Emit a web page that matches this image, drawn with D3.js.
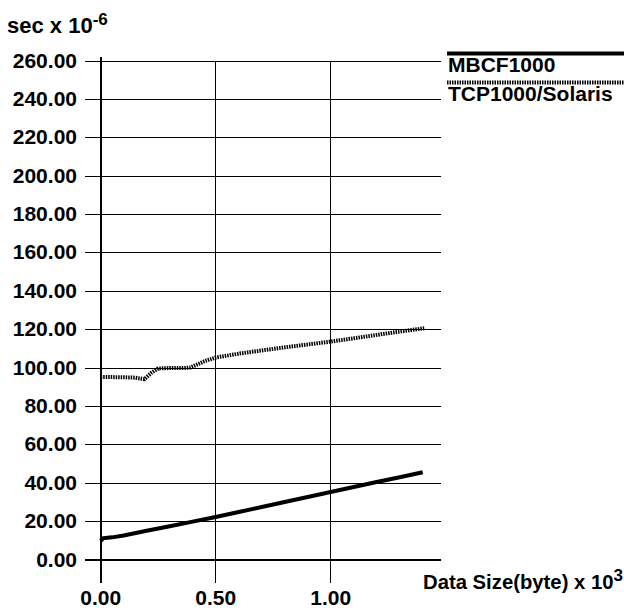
<!DOCTYPE html>
<html>
<head>
<meta charset="utf-8">
<script src="https://cdn.jsdelivr.net/npm/d3@7/dist/d3.min.js"></script>
<style>
  html, body { margin: 0; padding: 0; background: #fff; }
  svg text { font-family: "Liberation Sans", Arial, Helvetica, sans-serif; font-weight: bold; fill: #000; }
</style>
</head>
<body>
<svg id="chart" width="624" height="611"></svg>
<script>
// ---- data ----
const xTicks = [0, 0.5, 1.0];
const yTicks = [0, 20, 40, 60, 80, 100, 120, 140, 160, 180, 200, 220, 240, 260];
const seriesNames = ["MBCF1000", "TCP1000/Solaris"];
const mbcfX = [0, 0.01, 0.05, 0.1, 0.2, 0.3, 0.4, 0.5, 0.6, 0.7, 0.8, 0.9, 1.0, 1.1, 1.2, 1.3, 1.4];
const mbcfY = [10.0, 11.3, 11.8, 12.8, 15.2, 17.6, 20.0, 22.4, 25.0, 27.6, 30.2, 32.8, 35.4, 38.0, 40.6, 43.1, 45.7];
const tcpX = [0, 0.05, 0.1, 0.15, 0.19, 0.22, 0.25, 0.3, 0.35, 0.39, 0.45, 0.5, 0.6, 0.7, 0.8, 0.9, 1.0, 1.1, 1.2, 1.3, 1.41];
const tcpY = [95.3, 95.3, 95.2, 95.0, 94.2, 97.5, 99.8, 100.0, 100.0, 100.3, 103.5, 105.5, 107.5, 109.2, 110.8, 112.3, 113.8, 115.5, 117.3, 119.0, 120.8];

// ---- layout ----
const svg = d3.select("#chart");
const x = d3.scaleLinear().domain([0, 1]).range([100.7, 330.7]);
const y = d3.scaleLinear().domain([0, 260]).range([560, 61]);
const xMax = x.invert(441);

// horizontal grid lines (with tick stubs to the left of the axis)
svg.append("g").selectAll("line").data(yTicks).join("line")
  .attr("x1", 85).attr("x2", x(xMax))
  .attr("y1", d => y(d)).attr("y2", d => y(d))
  .attr("stroke", "#000").attr("stroke-width", d => d === 0 ? 2 : 1)
  .attr("shape-rendering", "crispEdges");

// vertical grid lines (extending below axis as ticks)
svg.append("g").selectAll("line").data(xTicks.filter(d => d !== 0)).join("line")
  .attr("x1", d => x(d)).attr("x2", d => x(d))
  .attr("y1", y(260)).attr("y2", 583)
  .attr("stroke", "#000").attr("stroke-width", 1)
  .attr("shape-rendering", "crispEdges");

// y axis
svg.append("line")
  .attr("x1", x(0)).attr("x2", x(0)).attr("y1", 57).attr("y2", 583)
  .attr("stroke", "#000").attr("stroke-width", 2)
  .attr("shape-rendering", "crispEdges");

// y tick labels
svg.append("g").selectAll("text").data(yTicks).join("text")
  .attr("x", 77).attr("y", d => y(d) + 6.5)
  .attr("text-anchor", "end").attr("font-size", 21)
  .text(d => d3.format(".2f")(d));

// x tick labels
svg.append("g").selectAll("text").data(xTicks).join("text")
  .attr("x", d => x(d)).attr("y", 605)
  .attr("text-anchor", "middle").attr("font-size", 21)
  .text(d => d3.format(".2f")(d));

// axis titles
const yt = svg.append("text").attr("x", 7).attr("y", 33).attr("font-size", 22);
yt.append("tspan").text("sec x 10");
yt.append("tspan").attr("font-size", 17).attr("dy", -8).text("-6");

const xt = svg.append("text").attr("x", 423).attr("y", 589).attr("font-size", 20.3);
xt.append("tspan").text("Data Size(byte) x 10");
xt.append("tspan").attr("font-size", 17).attr("dy", -8).text("3");

// lines
const line = d3.line().x(d => x(d[0])).y(d => y(d[1]));
svg.append("path")
  .datum(mbcfX.map((v, i) => [v, mbcfY[i]]))
  .attr("d", line).attr("fill", "none")
  .attr("stroke", "#000").attr("stroke-width", 4).attr("stroke-linejoin", "round");
svg.append("path")
  .datum(tcpX.map((v, i) => [v, tcpY[i]]))
  .attr("d", line).attr("fill", "none")
  .attr("stroke", "#000").attr("stroke-width", 4).attr("stroke-dasharray", "1.5,1");

// legend
const legY = [53.5, 82.5];
const leg = svg.append("g");
leg.selectAll("line").data(seriesNames).join("line")
  .attr("x1", 447).attr("x2", 624)
  .attr("y1", (d, i) => legY[i]).attr("y2", (d, i) => legY[i])
  .attr("stroke", "#000").attr("stroke-width", 4)
  .attr("stroke-dasharray", (d, i) => i === 1 ? "1.5,1" : null);
leg.selectAll("text").data(seriesNames).join("text")
  .attr("x", 448).attr("y", (d, i) => legY[i] + 18)
  .attr("font-size", 21)
  .text(d => d);
</script>
</body>
</html>
